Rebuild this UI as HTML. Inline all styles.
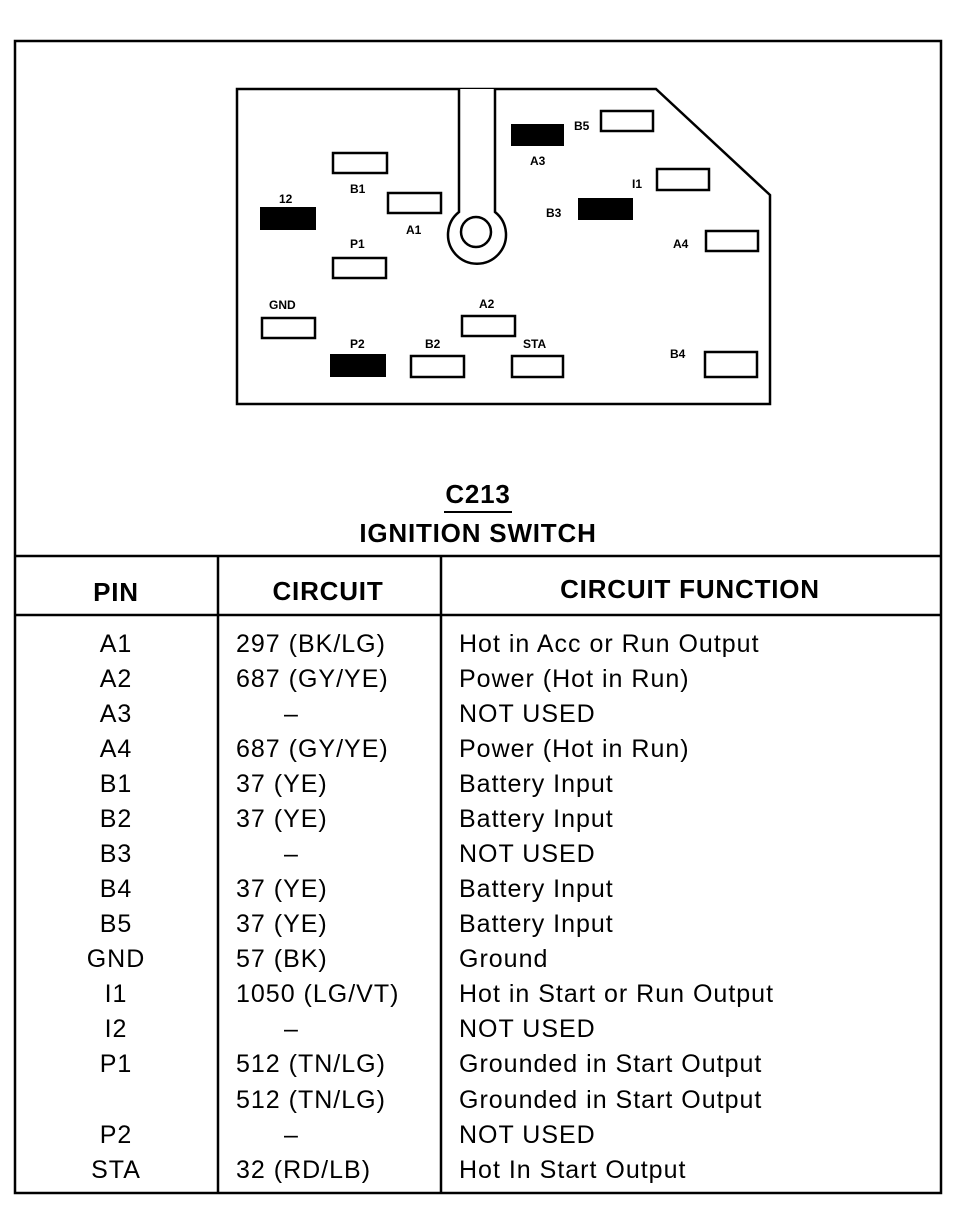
<!DOCTYPE html>
<html><head><meta charset="utf-8"><style>
html,body{margin:0;padding:0;background:#fff;}
svg{display:block}
text{font-family:"Liberation Sans",Arial,sans-serif;fill:#000}
.s{font-size:12px;font-weight:bold}
.b{font-size:25px;letter-spacing:1px}
.h{font-size:26px;font-weight:bold;letter-spacing:0.8px}
</style></head><body>
<svg width="962" height="1216" viewBox="0 0 962 1216">
<rect x="15" y="41" width="926" height="1152" fill="none" stroke="#000" stroke-width="2.5"/>
<line x1="15" y1="556" x2="941" y2="556" stroke="#000" stroke-width="2.5"/>
<line x1="15" y1="615" x2="941" y2="615" stroke="#000" stroke-width="2.5"/>
<line x1="218" y1="556" x2="218" y2="1193" stroke="#000" stroke-width="2.5"/>
<line x1="441" y1="556" x2="441" y2="1193" stroke="#000" stroke-width="2.5"/>
<polygon points="237,89 656,89 770,195 770,404 237,404" fill="none" stroke="#000" stroke-width="2.5"/>
<path d="M459,89 L459,212 A29,29 0 1 0 495,212 L495,89" fill="#fff" stroke="#000" stroke-width="2.5"/>
<circle cx="476" cy="232" r="15" fill="none" stroke="#000" stroke-width="2.5"/>
<g fill="none" stroke="#000" stroke-width="2.5">
<rect x="601" y="111" width="52" height="20"/>
<rect x="333" y="153" width="54" height="20"/>
<rect x="657" y="169" width="52" height="21"/>
<rect x="388" y="193" width="53" height="20"/>
<rect x="706" y="231" width="52" height="20"/>
<rect x="333" y="258" width="53" height="20"/>
<rect x="262" y="318" width="53" height="20"/>
<rect x="462" y="316" width="53" height="20"/>
<rect x="411" y="356" width="53" height="21"/>
<rect x="512" y="356" width="51" height="21"/>
<rect x="705" y="352" width="52" height="25"/>
</g>
<g fill="#000">
<rect x="511" y="124" width="53" height="22"/>
<rect x="260" y="207" width="56" height="23"/>
<rect x="578" y="198" width="55" height="22"/>
<rect x="330" y="354" width="56" height="23"/>
</g>
<g class="s">
<text x="574" y="130">B5</text>
<text x="530" y="165">A3</text>
<text x="350" y="193">B1</text>
<text x="632" y="188">I1</text>
<text x="279" y="203">12</text>
<text x="546" y="217">B3</text>
<text x="406" y="234">A1</text>
<text x="673" y="248">A4</text>
<text x="350" y="248">P1</text>
<text x="269" y="309">GND</text>
<text x="479" y="308">A2</text>
<text x="350" y="348">P2</text>
<text x="425" y="348">B2</text>
<text x="523" y="348">STA</text>
<text x="670" y="358">B4</text>
</g>
<text x="478" y="503" text-anchor="middle" class="h">C213</text>
<line x1="444" y1="512" x2="512" y2="512" stroke="#000" stroke-width="2"/>
<text x="478" y="542" text-anchor="middle" class="h">IGNITION SWITCH</text>
<text x="116" y="601" text-anchor="middle" class="h">PIN</text>
<text x="328" y="600" text-anchor="middle" class="h">CIRCUIT</text>
<text x="690" y="598" text-anchor="middle" class="h">CIRCUIT FUNCTION</text>
<g class="b">
<text x="116" y="652" text-anchor="middle">A1</text><text x="236" y="652">297 (BK/LG)</text><text x="459" y="652">Hot in Acc or Run Output</text>
<text x="116" y="687" text-anchor="middle">A2</text><text x="236" y="687">687 (GY/YE)</text><text x="459" y="687">Power (Hot in Run)</text>
<text x="116" y="722" text-anchor="middle">A3</text><text x="284" y="722">–</text><text x="459" y="722">NOT USED</text>
<text x="116" y="757" text-anchor="middle">A4</text><text x="236" y="757">687 (GY/YE)</text><text x="459" y="757">Power (Hot in Run)</text>
<text x="116" y="792" text-anchor="middle">B1</text><text x="236" y="792">37 (YE)</text><text x="459" y="792">Battery Input</text>
<text x="116" y="827" text-anchor="middle">B2</text><text x="236" y="827">37 (YE)</text><text x="459" y="827">Battery Input</text>
<text x="116" y="862" text-anchor="middle">B3</text><text x="284" y="862">–</text><text x="459" y="862">NOT USED</text>
<text x="116" y="897" text-anchor="middle">B4</text><text x="236" y="897">37 (YE)</text><text x="459" y="897">Battery Input</text>
<text x="116" y="932" text-anchor="middle">B5</text><text x="236" y="932">37 (YE)</text><text x="459" y="932">Battery Input</text>
<text x="116" y="967" text-anchor="middle">GND</text><text x="236" y="967">57 (BK)</text><text x="459" y="967">Ground</text>
<text x="116" y="1002" text-anchor="middle">I1</text><text x="236" y="1002">1050 (LG/VT)</text><text x="459" y="1002">Hot in Start or Run Output</text>
<text x="116" y="1037" text-anchor="middle">I2</text><text x="284" y="1037">–</text><text x="459" y="1037">NOT USED</text>
<text x="116" y="1072" text-anchor="middle">P1</text><text x="236" y="1072">512 (TN/LG)</text><text x="459" y="1072">Grounded in Start Output</text>
<text x="236" y="1108">512 (TN/LG)</text><text x="459" y="1108">Grounded in Start Output</text>
<text x="116" y="1143" text-anchor="middle">P2</text><text x="284" y="1143">–</text><text x="459" y="1143">NOT USED</text>
<text x="116" y="1178" text-anchor="middle">STA</text><text x="236" y="1178">32 (RD/LB)</text><text x="459" y="1178">Hot In Start Output</text>
</g>
</svg>
</body></html>
